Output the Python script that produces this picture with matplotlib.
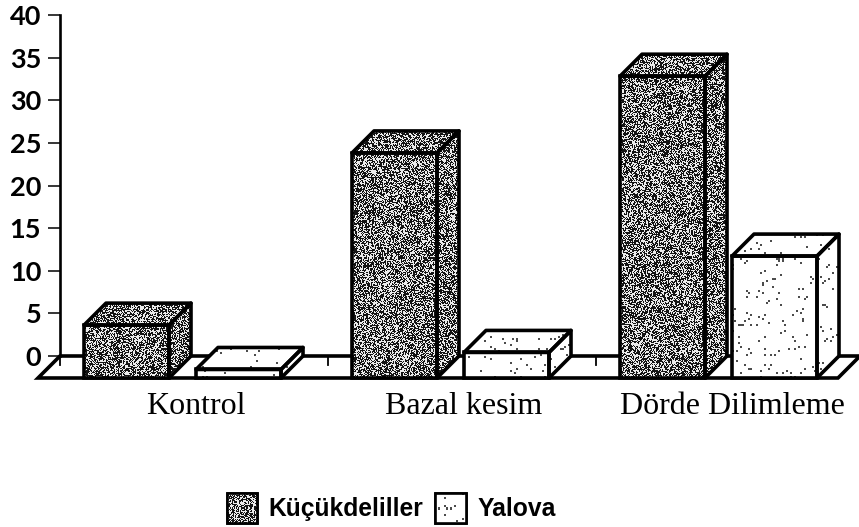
import numpy as np
import matplotlib
matplotlib.use("Agg")
import matplotlib.pyplot as plt
from matplotlib.patches import Polygon, Patch, PathPatch

categories = ["Kontrol", "Bazal kesim", "Dörde Dilimleme"]
series_names = ["Küçükdeliller", "Yalova"]
kucukdeliller = [6.2, 26.4, 35.4]
yalova = [1.0, 3.0, 14.3]
y_ticks = [0, 5, 10, 15, 20, 25, 30, 35, 40]

W, H = 859, 527
PX_X = 268.0           # px per category
PX_Y = 8.525           # px per value unit
X0_PX, Y0_PX = 196.0, 356.0
DX, DY = 22 / PX_X, 22 / PX_Y
BW = 85 / PX_X
LW = 2.6


def grain(w, h, sx, sy):
    """Deterministic speckle field in [0, 1), used only as a print-like fill texture."""
    yy, xx = np.mgrid[0:h, 0:w]
    v = np.sin(xx * sx + yy * sy + xx * yy * 0.0137) * 43758.5453
    return v - np.floor(v)


# dark stipple: fine mottled grey, light stipple: sparse small specks on white
dark_tex = np.where(grain(W, H, 12.9898, 78.233) < 0.46, 0.92, 0.08)
coarse = grain(W // 2 + 1, H // 2 + 1, 93.989, 67.345)
light_tex = np.where(np.repeat(np.repeat(coarse, 2, 0), 2, 1)[:H, :W] < 0.04, 0.3, 1.0)

fig = plt.figure(figsize=(W / 100, H / 100), dpi=100)
ax = fig.add_axes([0, 0, 1, 1])
xlim = (-X0_PX / PX_X, (W - X0_PX) / PX_X)
ylim = ((Y0_PX - H) / PX_Y, Y0_PX / PX_Y)
ax.set_xlim(*xlim)
ax.set_ylim(*ylim)
ax.patch.set_visible(False)


def fill_texture(tex, clip, z):
    im = ax.imshow(tex, extent=(*xlim, *ylim), origin="upper", cmap="gray", vmin=0, vmax=1,
                   aspect="auto", interpolation="nearest", zorder=z)
    im.set_clip_path(clip)
    return im


# axes / spines
for s in ("top", "right"):
    ax.spines[s].set_visible(False)
ax.spines["left"].set_position(("data", (60 - X0_PX) / PX_X))
ax.spines["left"].set_bounds(0, 40)
ax.spines["left"].set_linewidth(1.9)
ax.set_yticks(y_ticks)
ax.tick_params(axis="y", direction="out", length=8.5, width=1.1, pad=5)
for lab in ax.get_yticklabels():
    lab.set_fontfamily("Lato")
    lab.set_fontweight("bold")
    lab.set_fontsize(19.5)
ax.spines["bottom"].set_position(("data", -DY))
ax.spines["bottom"].set_visible(False)
ax.set_xticks(range(len(categories)))
ax.set_xticklabels(categories, fontfamily="Liberation Serif", fontsize=23)
ax.tick_params(axis="x", length=0, pad=10)

# floor
xl = (60 - X0_PX) / PX_X
nc = len(categories)
xr = xl + nc * (800 / 3) / PX_X
floor = Polygon([(xl, 0), (xr, 0), (xr - DX, -DY), (xl - DX, -DY)], closed=True,
                facecolor="white", edgecolor="black", linewidth=LW, zorder=1)
ax.add_patch(floor)
for i in range(nc):
    ax.plot([xl + i, xl + i], [0, -9 / PX_Y], color="black", lw=1.3, zorder=1.5)


def bar3d(x, v, tex, z):
    base = -DY
    bars = ax.bar(x, v, BW, bottom=base, align="edge", facecolor="white", edgecolor="black",
                  linewidth=LW, zorder=z + 0.2)
    front = bars[0]
    front.set_facecolor("none")
    fill_texture(tex, front, z + 0.1)
    top = [(x, base + v), (x + BW, base + v), (x + BW + DX, v), (x + DX, v)]
    side = [(x + BW, base), (x + BW + DX, 0), (x + BW + DX, v), (x + BW, base + v)]
    for pts in (top, side):
        p = Polygon(pts, closed=True, facecolor="none", edgecolor="black", linewidth=LW,
                    joinstyle="round", zorder=z + 0.2)
        ax.add_patch(p)
        fill_texture(tex, p, z + 0.1)


for i in range(nc):
    bar3d(i - 112 / PX_X, kucukdeliller[i], dark_tex, 3 + 2 * i)
    bar3d(i, yalova[i], light_tex, 4 + 2 * i)

ax.set_xlim(*xlim)
ax.set_ylim(*ylim)

handles = [Patch(facecolor="white", edgecolor="black", linewidth=1.9, label=series_names[0]),
           Patch(facecolor="white", edgecolor="black", linewidth=1.9, label=series_names[1])]
leg = ax.legend(handles=handles, loc="center", bbox_to_anchor=(391 / W, 1 - 508 / H),
                ncol=2, frameon=False, handlelength=1.25, handleheight=1.55,
                handletextpad=0.45, columnspacing=0.5, borderpad=0,
                prop={"family": "Liberation Sans", "weight": "bold", "size": 17.7})
fig.canvas.draw()
for patch, tex in zip(leg.get_patches(), (dark_tex, light_tex)):
    im = fill_texture(tex, patch, 20)
    ax.add_patch(PathPatch(patch.get_path(), transform=patch.get_transform(), facecolor="none",
                           edgecolor="black", linewidth=1.9, zorder=21, clip_on=False))

fig.savefig("out.png", dpi=100)
